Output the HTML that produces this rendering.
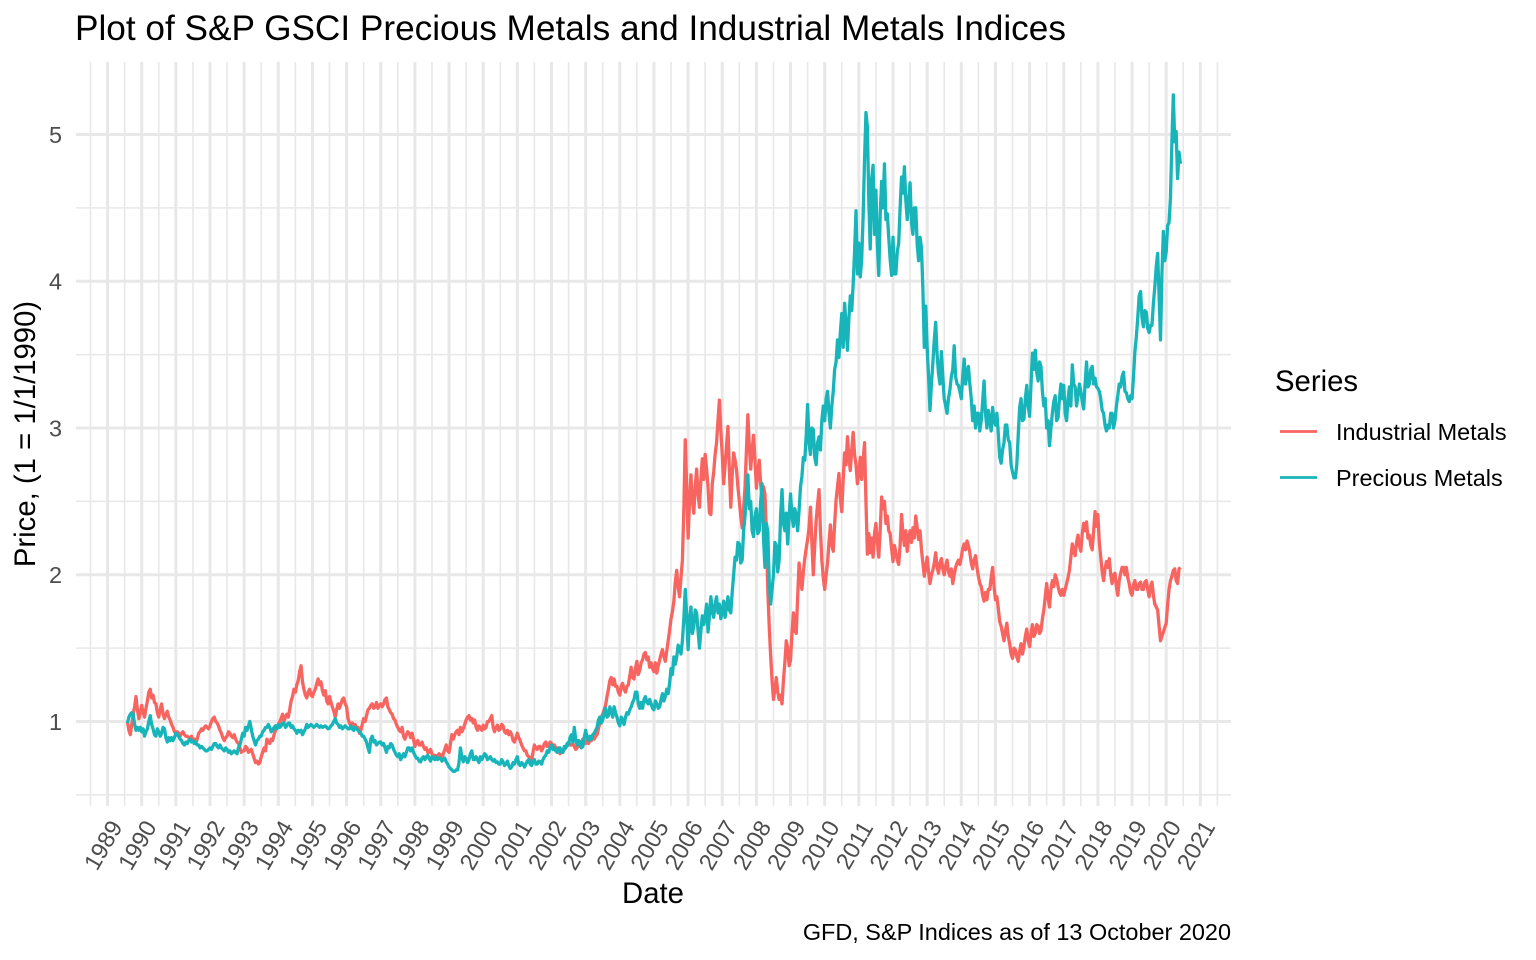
<!DOCTYPE html>
<html lang="en">
<head>
<meta charset="utf-8">
<title>Plot of S&amp;P GSCI Precious Metals and Industrial Metals Indices</title>
<style>
html,body{margin:0;padding:0;background:#fff;}
svg{display:block;font-family:"Liberation Sans",Arial,sans-serif;}
</style>
</head>
<body>
<svg id="chart" xmlns="http://www.w3.org/2000/svg" width="1536" height="960" viewBox="0 0 1536 960">
  <rect x="0" y="0" width="1536" height="960" fill="#fff"/>
  <text x="75" y="40" font-size="35.2" fill="#000">Plot of S&amp;P GSCI Precious Metals and Industrial Metals Indices</text>
  <g id="grid"></g>
  <g id="series"></g>
  <g id="yticks"></g>
  <g id="xticks"></g>
  <text transform="translate(35,434) rotate(-90)" text-anchor="middle" font-size="29.3" fill="#000">Price, (1 = 1/1/1990)</text>
  <text x="653" y="903" text-anchor="middle" font-size="29.3" fill="#000">Date</text>
  <text x="1231" y="940" text-anchor="end" font-size="23.45" fill="#000">GFD, S&amp;P Indices as of 13 October 2020</text>
  <g>
    <text x="1275" y="391" font-size="29.3" fill="#000">Series</text>
    <g>
      <line x1="1280" x2="1317" y1="431.5" y2="431.5" stroke="#F8645F" stroke-width="2.8"/>
      <text x="1336" y="440" font-size="23.45" fill="#000">Industrial Metals</text>
    </g>
    <g>
      <line x1="1280" x2="1317" y1="477.5" y2="477.5" stroke="#17B5BA" stroke-width="2.8"/>
      <text x="1336" y="486" font-size="23.45" fill="#000">Precious Metals</text>
    </g>
  </g>
</svg>
<script>
// Axis tick values
const yearLabels = [1989,1990,1991,1992,1993,1994,1995,1996,1997,1998,1999,2000,2001,2002,2003,2004,2005,2006,2007,2008,2009,2010,2011,2012,2013,2014,2015,2016,2017,2018,2019,2020,2021];
const minorYears = [1988.5,1989.5,1990.5,1991.5,1992.5,1993.5,1994.5,1995.5,1996.5,1997.5,1998.5,1999.5,2000.5,2001.5,2002.5,2003.5,2004.5,2005.5,2006.5,2007.5,2008.5,2009.5,2010.5,2011.5,2012.5,2013.5,2014.5,2015.5,2016.5,2017.5,2018.5,2019.5,2020.5,2021.5];
const yLabels = [1,2,3,4,5];
const yMinor = [0.5,1.5,2.5,3.5,4.5];

// Half-monthly readings, first reading August 1989 (row = calendar year)
const firstYear = 1989;
const firstMonth = 7;
const readingsPerYear = 24;
const industrialMetals = [
1.00,0.94,0.91,0.98,1.05,1.10,1.17,1.08,1.02,1.06,
1.11,1.06,1.03,1.09,1.14,1.20,1.22,1.16,1.18,1.13,1.12,1.06,1.03,1.08,1.12,1.05,1.02,1.05,1.07,1.03,1.01,0.98,0.96,0.93,
0.92,0.93,0.92,0.90,0.92,0.93,0.91,0.90,0.90,0.89,0.88,0.90,0.87,0.88,0.85,0.88,0.92,0.93,0.95,0.94,0.96,0.97,0.96,0.95,
0.97,1.00,1.02,1.03,1.00,0.99,0.97,0.94,0.92,0.89,0.87,0.89,0.90,0.93,0.92,0.90,0.89,0.91,0.88,0.86,0.85,0.82,0.79,0.80,
0.80,0.83,0.82,0.79,0.80,0.81,0.78,0.75,0.72,0.73,0.71,0.72,0.76,0.79,0.82,0.80,0.88,0.86,0.85,0.88,0.87,0.91,0.94,0.97,
0.98,1.00,1.02,1.05,1.00,1.03,1.05,1.03,1.08,1.14,1.17,1.22,1.20,1.25,1.28,1.34,1.38,1.27,1.22,1.18,1.16,1.20,1.22,1.18,
1.17,1.20,1.22,1.26,1.29,1.25,1.27,1.21,1.18,1.21,1.14,1.12,1.17,1.13,1.10,1.07,1.03,1.08,1.12,1.09,1.12,1.15,1.16,1.12,
1.10,1.02,0.99,0.97,0.99,0.96,0.98,0.95,0.96,0.92,0.94,0.98,1.02,1.00,1.04,1.08,1.09,1.11,1.12,1.09,1.10,1.13,1.09,1.11,
1.12,1.10,1.12,1.15,1.16,1.10,1.08,1.06,1.05,1.02,1.01,0.98,0.96,0.94,0.93,0.96,0.90,0.88,0.91,0.93,0.92,0.89,0.92,0.88,
0.83,0.86,0.87,0.84,0.84,0.86,0.83,0.81,0.82,0.79,0.79,0.81,0.78,0.76,0.77,0.75,0.77,0.78,0.77,0.75,0.78,0.81,0.84,0.80,
0.79,0.85,0.91,0.88,0.91,0.93,0.94,0.91,0.96,0.93,0.95,0.98,1.01,1.03,1.04,1.01,1.02,0.99,1.01,0.96,0.94,0.97,0.96,0.94,
0.975,0.95,0.96,1.00,1.00,1.02,1.04,0.96,0.93,0.96,0.975,0.94,0.95,0.98,0.97,0.93,0.92,0.94,0.91,0.93,0.91,0.87,0.86,0.89,
0.92,0.89,0.87,0.84,0.82,0.80,0.80,0.77,0.76,0.75,0.74,0.79,0.84,0.82,0.81,0.83,0.83,0.80,0.82,0.85,0.86,0.83,0.84,0.86,
0.85,0.83,0.84,0.82,0.82,0.80,0.78,0.80,0.79,0.81,0.82,0.84,0.86,0.84,0.84,0.85,0.83,0.81,0.82,0.84,0.83,0.86,0.88,0.85,
0.85,0.87,0.85,0.87,0.87,0.89,0.88,0.90,0.91,0.95,0.99,1.03,1.05,1.08,1.11,1.17,1.22,1.28,1.30,1.25,1.29,1.24,1.24,1.20,
1.18,1.24,1.26,1.22,1.20,1.24,1.25,1.31,1.37,1.30,1.29,1.36,1.41,1.32,1.35,1.40,1.42,1.46,1.47,1.42,1.44,1.37,1.40,1.36,
1.34,1.40,1.33,1.38,1.42,1.46,1.49,1.44,1.41,1.48,1.55,1.62,1.70,1.75,1.82,1.95,2.03,1.92,1.85,1.98,2.10,2.45,2.92,2.60,
2.25,2.50,2.68,2.50,2.42,2.60,2.72,2.55,2.46,2.65,2.79,2.65,2.82,2.72,2.60,2.42,2.41,2.62,2.70,2.82,2.90,3.05,3.19,2.98,
2.82,2.62,2.75,2.88,3.01,2.72,2.46,2.68,2.83,2.78,2.72,2.60,2.50,2.40,2.32,2.45,2.60,2.85,3.09,2.88,2.72,2.85,2.95,2.78,
2.59,2.70,2.78,2.62,2.50,2.60,2.55,2.30,1.90,1.65,1.45,1.28,1.15,1.22,1.30,1.20,1.15,1.18,1.12,1.28,1.40,1.55,1.50,1.38,
1.42,1.60,1.74,1.62,1.60,1.85,2.08,1.98,1.90,2.02,2.11,2.18,2.24,2.32,2.46,2.22,2.00,2.20,2.37,2.48,2.58,2.30,2.10,1.98,
1.90,2.00,2.08,2.22,2.34,2.20,2.16,2.35,2.51,2.60,2.69,2.52,2.43,2.65,2.83,2.75,2.94,2.80,2.71,2.85,2.97,2.82,2.75,2.62,
2.70,2.80,2.65,2.78,2.90,2.50,2.14,2.28,2.15,2.25,2.12,2.28,2.35,2.22,2.12,2.30,2.53,2.45,2.50,2.35,2.40,2.30,2.28,2.18,
2.09,2.20,2.15,2.10,2.07,2.20,2.41,2.28,2.20,2.30,2.16,2.25,2.30,2.22,2.32,2.25,2.40,2.32,2.24,2.30,2.17,2.08,1.99,2.05,
2.12,2.02,1.94,2.00,2.03,2.08,2.15,2.05,2.01,2.08,2.11,2.04,2.00,2.06,2.10,2.02,1.99,2.04,1.94,2.00,2.05,2.08,2.10,2.07,
2.12,2.18,2.21,2.17,2.23,2.20,2.15,2.08,2.04,2.10,2.13,2.05,1.99,1.94,1.92,1.86,1.82,1.88,1.83,1.90,1.90,1.98,2.05,1.92,
1.83,1.85,1.77,1.68,1.65,1.60,1.55,1.62,1.67,1.58,1.53,1.46,1.43,1.50,1.49,1.44,1.41,1.48,1.53,1.46,1.51,1.58,1.63,1.55,
1.51,1.60,1.66,1.58,1.60,1.66,1.65,1.60,1.62,1.70,1.76,1.85,1.94,1.84,1.78,1.90,1.96,1.92,2.00,1.97,1.92,1.88,1.86,1.90,
1.86,1.90,1.94,1.98,2.03,2.12,2.21,2.16,2.13,2.22,2.27,2.20,2.16,2.28,2.35,2.30,2.36,2.25,2.27,2.20,2.17,2.30,2.43,2.33,
2.41,2.22,2.12,2.02,1.96,2.04,2.09,2.05,2.11,2.00,1.94,2.00,2.01,1.92,1.86,1.96,2.01,2.05,2.05,2.00,2.05,1.98,1.94,1.88,
1.86,1.93,1.96,1.90,1.90,1.94,1.95,1.90,1.90,1.95,1.96,1.90,1.85,1.92,1.95,1.86,1.80,1.78,1.76,1.65,1.55,1.58,1.61,1.64,
1.67,1.80,1.90,1.96,1.99,2.03,2.04,1.96,1.94,2.04,2.05
];
const preciousMetals = [
0.99,1.03,1.05,1.06,1.05,0.98,0.94,0.96,0.94,0.96,
0.93,0.95,0.90,0.93,0.95,1.00,1.04,0.98,0.95,0.91,0.90,0.95,0.93,0.90,0.92,0.96,0.95,0.89,0.86,0.89,0.87,0.89,0.87,0.89,
0.92,0.91,0.90,0.88,0.87,0.85,0.84,0.86,0.85,0.87,0.88,0.86,0.87,0.85,0.86,0.84,0.84,0.82,0.83,0.82,0.81,0.80,0.80,0.81,
0.82,0.81,0.83,0.85,0.85,0.83,0.82,0.84,0.82,0.81,0.80,0.82,0.81,0.79,0.80,0.78,0.79,0.80,0.79,0.78,0.82,0.84,0.88,0.92,
0.90,0.96,0.94,0.97,1.00,0.95,0.90,0.87,0.84,0.87,0.88,0.90,0.90,0.93,0.94,0.96,0.96,0.98,0.96,0.93,0.94,0.96,0.97,0.95,
0.98,0.96,0.97,0.99,0.99,0.96,0.97,0.99,0.99,0.96,0.97,0.95,0.94,0.92,0.94,0.93,0.94,0.91,0.93,0.95,0.98,0.96,0.97,0.98,
0.97,0.96,0.97,0.98,0.97,0.96,0.97,0.96,0.965,0.97,0.96,0.95,0.955,0.97,0.98,1.00,1.02,0.99,0.98,0.96,0.97,0.95,0.96,0.97,
0.96,0.95,0.95,0.97,0.95,0.94,0.96,0.95,0.94,0.93,0.92,0.90,0.90,0.88,0.86,0.82,0.79,0.88,0.90,0.86,0.87,0.84,0.85,0.86,
0.86,0.84,0.85,0.82,0.79,0.83,0.82,0.85,0.84,0.81,0.79,0.77,0.76,0.78,0.74,0.76,0.78,0.76,0.79,0.82,0.82,0.80,0.82,0.79,
0.77,0.75,0.75,0.73,0.725,0.75,0.76,0.74,0.76,0.77,0.75,0.73,0.76,0.75,0.74,0.76,0.74,0.75,0.75,0.73,0.74,0.75,0.725,0.71,
0.69,0.68,0.67,0.66,0.66,0.67,0.67,0.72,0.82,0.76,0.725,0.76,0.75,0.72,0.74,0.78,0.80,0.74,0.74,0.76,0.74,0.72,0.76,0.74,
0.76,0.78,0.77,0.74,0.75,0.76,0.74,0.73,0.74,0.72,0.725,0.71,0.71,0.74,0.725,0.70,0.71,0.73,0.70,0.68,0.69,0.72,0.71,0.74,
0.76,0.71,0.70,0.72,0.71,0.69,0.71,0.73,0.74,0.71,0.70,0.73,0.74,0.71,0.71,0.73,0.725,0.71,0.74,0.76,0.77,0.80,0.79,0.82,
0.84,0.81,0.82,0.80,0.79,0.82,0.82,0.79,0.79,0.83,0.82,0.85,0.84,0.89,0.91,0.86,0.96,0.88,0.84,0.87,0.86,0.82,0.83,0.89,
0.94,0.89,0.87,0.90,0.88,0.91,0.92,0.94,0.96,1.01,1.03,0.99,1.01,1.06,1.09,1.03,1.04,1.10,1.07,1.03,1.10,1.06,1.03,0.99,
0.97,1.03,1.01,0.98,1.03,1.06,1.05,1.08,1.10,1.13,1.15,1.20,1.20,1.12,1.09,1.13,1.09,1.15,1.17,1.13,1.12,1.15,1.12,1.09,
1.08,1.14,1.12,1.09,1.10,1.15,1.19,1.14,1.17,1.22,1.19,1.26,1.36,1.32,1.44,1.39,1.44,1.52,1.50,1.46,1.55,1.70,1.90,1.72,
1.49,1.70,1.78,1.60,1.65,1.76,1.74,1.62,1.50,1.62,1.72,1.66,1.72,1.80,1.61,1.72,1.85,1.75,1.71,1.80,1.85,1.74,1.80,1.70,
1.75,1.82,1.71,1.78,1.85,1.76,1.74,1.88,2.00,2.12,2.10,2.22,2.21,2.08,2.10,2.30,2.40,2.55,2.68,2.45,2.50,2.30,2.26,2.40,
2.45,2.28,2.30,2.50,2.62,2.25,2.05,2.35,2.30,1.95,1.80,1.90,2.00,2.22,2.20,2.02,2.10,2.40,2.58,2.35,2.30,2.42,2.21,2.40,
2.55,2.40,2.33,2.45,2.40,2.30,2.44,2.60,2.67,2.80,2.78,2.95,3.16,2.90,2.82,3.00,2.99,2.80,2.75,2.90,2.94,2.85,3.05,3.15,
3.05,3.20,3.25,3.10,3.00,3.15,3.25,3.40,3.45,3.60,3.48,3.65,3.78,3.55,3.85,3.70,3.53,3.75,3.90,3.80,3.98,4.20,4.48,4.05,
4.26,4.03,4.15,4.44,4.83,5.15,5.05,4.55,4.22,4.70,4.79,4.32,4.62,4.25,4.04,4.45,4.68,4.50,4.80,4.42,4.46,4.30,4.15,4.04,
4.30,4.05,4.05,4.20,4.26,4.50,4.71,4.60,4.78,4.55,4.42,4.55,4.67,4.40,4.32,4.50,4.50,4.25,4.14,4.30,4.23,3.95,3.55,3.83,
3.55,3.35,3.12,3.30,3.44,3.60,3.72,3.50,3.37,3.30,3.52,3.35,3.20,3.15,3.10,3.20,3.26,3.35,3.40,3.56,3.35,3.30,3.29,3.25,
3.20,3.35,3.47,3.30,3.37,3.42,3.30,3.20,3.05,3.15,3.00,3.10,3.10,2.98,3.05,3.18,3.32,3.10,3.00,3.12,3.05,2.98,3.14,3.05,
3.02,3.10,2.96,2.80,2.76,2.85,2.90,3.02,3.02,2.92,2.90,2.75,2.70,2.66,2.66,2.75,2.95,3.14,3.20,3.05,3.06,3.20,3.29,3.15,
3.08,3.30,3.51,3.40,3.53,3.38,3.32,3.45,3.42,3.25,3.15,3.20,3.00,3.05,2.88,3.00,3.10,3.18,3.22,3.05,3.07,3.20,3.30,3.20,
3.29,3.10,3.05,3.20,3.28,3.15,3.43,3.30,3.28,3.15,3.22,3.30,3.25,3.18,3.13,3.30,3.45,3.28,3.30,3.40,3.42,3.30,3.34,3.28,
3.27,3.25,3.20,3.12,3.10,3.02,2.98,3.02,3.00,3.10,3.10,3.00,3.05,3.15,3.22,3.30,3.28,3.35,3.38,3.25,3.24,3.20,3.18,3.22,
3.20,3.35,3.52,3.62,3.75,3.90,3.93,3.75,3.69,3.80,3.79,3.68,3.65,3.70,3.70,3.85,3.96,4.10,4.19,3.90,3.60,4.05,4.34,4.14,
4.20,4.38,4.40,4.57,4.95,5.27,4.95,5.02,4.70,4.88,4.80
];

const svgNS = 'http://www.w3.org/2000/svg';
const panel = {left:76, right:1231, top:62, bottom:806};

function xScale(year){
  return 141.7 + (year - 1990) * 34.15;
}
function yScale(value){
  return 721.5 - (value - 1) * 146.75;
}
function dateAt(i){
  return firstYear + firstMonth / 12 + i / readingsPerYear;
}
function makeLine(parent, x1, y1, x2, y2, width){
  const el = document.createElementNS(svgNS, 'line');
  el.setAttribute('x1', x1);
  el.setAttribute('y1', y1);
  el.setAttribute('x2', x2);
  el.setAttribute('y2', y2);
  el.setAttribute('stroke', '#E8E8E8');
  el.setAttribute('stroke-width', width);
  parent.appendChild(el);
  return el;
}

const gridGroup = document.getElementById('grid');
yMinor.forEach(function(v){
  const el = makeLine(gridGroup, panel.left, yScale(v), panel.right, yScale(v), 1.6);
  
  
});
minorYears.forEach(function(y){
  const el = makeLine(gridGroup, xScale(y), panel.top, xScale(y), panel.bottom, 1.6);
  
  
});
yLabels.forEach(function(v){
  const el = makeLine(gridGroup, panel.left, yScale(v), panel.right, yScale(v), 3);
  
  
});
yearLabels.forEach(function(y){
  const el = makeLine(gridGroup, xScale(y), panel.top, xScale(y), panel.bottom, 3);
  
  
});

const yTickGroup = document.getElementById('yticks');
yLabels.forEach(function(v){
  const el = document.createElementNS(svgNS, 'text');
  
  
  el.setAttribute('x', 62);
  el.setAttribute('y', yScale(v) + 8.3);
  el.setAttribute('text-anchor', 'end');
  el.setAttribute('font-size', '23.45');
  el.setAttribute('fill', '#4D4D4D');
  el.textContent = v;
  yTickGroup.appendChild(el);
});

const xTickGroup = document.getElementById('xticks');
yearLabels.forEach(function(y){
  const el = document.createElementNS(svgNS, 'text');
  
  
  const cx = xScale(y) - 4.7;
  el.setAttribute('transform', 'translate(' + cx + ',845) rotate(-60)');
  el.setAttribute('y', 8.3);
  el.setAttribute('text-anchor', 'middle');
  el.setAttribute('font-size', '23.45');
  el.setAttribute('fill', '#4D4D4D');
  el.textContent = y;
  xTickGroup.appendChild(el);
});

function seriesPath(values){
  return values.map(function(v, i){
    return (i ? 'L' : 'M') + xScale(dateAt(i)).toFixed(2) + ' ' + yScale(v).toFixed(2);
  }).join('');
}

const seriesGroup = document.getElementById('series');

const industrialLine = document.createElementNS(svgNS, 'path');


industrialLine.setAttribute('d', seriesPath(industrialMetals));
industrialLine.setAttribute('fill', 'none');
industrialLine.setAttribute('stroke', '#F8645F');
industrialLine.setAttribute('stroke-width', '3.3');
industrialLine.setAttribute('stroke-linejoin', 'round');
seriesGroup.appendChild(industrialLine);

const preciousLine = document.createElementNS(svgNS, 'path');


preciousLine.setAttribute('d', seriesPath(preciousMetals));
preciousLine.setAttribute('fill', 'none');
preciousLine.setAttribute('stroke', '#17B5BA');
preciousLine.setAttribute('stroke-width', '3.3');
preciousLine.setAttribute('stroke-linejoin', 'round');
seriesGroup.appendChild(preciousLine);
</script>
</body>
</html>
